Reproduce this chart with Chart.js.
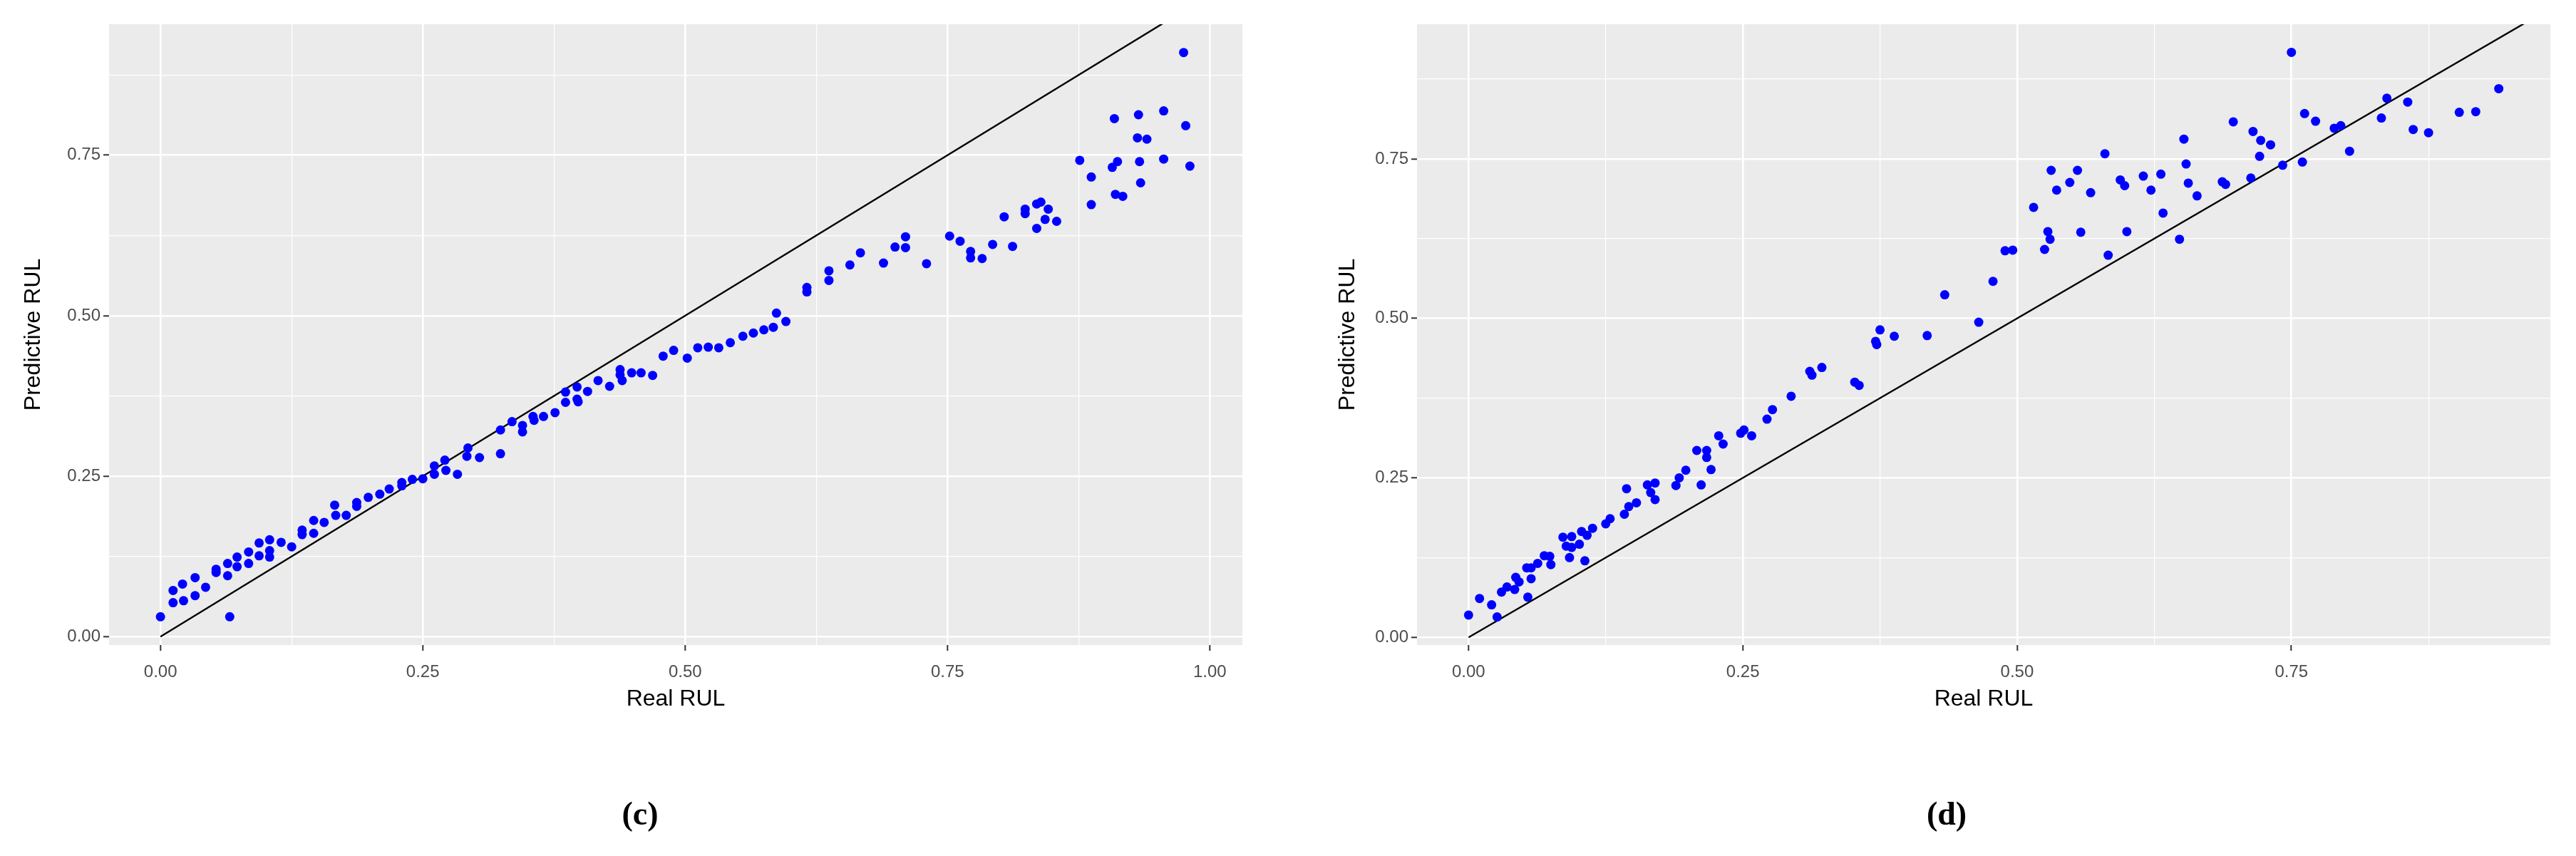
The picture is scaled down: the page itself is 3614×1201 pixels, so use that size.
<!DOCTYPE html>
<html><head><meta charset="utf-8">
<script src="https://cdn.jsdelivr.net/npm/chart.js@4/dist/chart.umd.min.js"></script>
<style>
body{margin:0;background:#fff;width:3614px;height:1201px;position:relative;overflow:hidden}
canvas{position:absolute;top:0}
.lab{position:absolute;font-family:"Liberation Serif",serif;font-weight:bold;font-size:46px;color:#000;transform:translate(-50%,-50%)}
</style></head><body>
<canvas id="c1" width="1800" height="1201" style="left:0"></canvas>
<canvas id="c2" width="1814" height="1201" style="left:1800px"></canvas>
<div class="lab" style="left:898px;top:1141px">(c)</div>
<div class="lab" style="left:2731px;top:1141px">(d)</div>
<script>
// Panel (c): Real RUL vs Predictive RUL
const realC = [0,0.012,0.012,0.021,0.022,0.033,0.033,0.043,0.053,0.053,0.064,0.064,0.066,0.073,0.073,0.084,0.084,0.094,0.094,0.104,0.104,0.104,0.115,0.125,0.135,0.135,0.146,0.146,0.156,0.166,0.167,0.177,0.187,0.187,0.198,0.209,0.218,0.230,0.230,0.240,0.250,0.261,0.261,0.271,0.272,0.283,0.293,0.292,0.304,0.324,0.324,0.335,0.345,0.345,0.355,0.356,0.365,0.376,0.386,0.386,0.397,0.397,0.398,0.407,0.417,0.428,0.438,0.438,0.440,0.449,0.458,0.469,0.479,0.489,0.502,0.512,0.522,0.532,0.543,0.555,0.565,0.575,0.584,0.587,0.596,0.616,0.616,0.637,0.637,0.657,0.667,0.689,0.700,0.710,0.710,0.730,0.752,0.762,0.772,0.772,0.783,0.793,0.804,0.812,0.824,0.824,0.835,0.839,0.835,0.843,0.846,0.854,0.876,0.887,0.887,0.909,0.907,0.912,0.910,0.917,0.932,0.931,0.940,0.933,0.934,0.956,0.956,0.975,0.977,0.981];
const predC = [0.031,0.072,0.053,0.082,0.056,0.092,0.064,0.077,0.105,0.100,0.114,0.095,0.031,0.124,0.109,0.132,0.114,0.146,0.126,0.151,0.134,0.124,0.147,0.140,0.166,0.159,0.181,0.161,0.178,0.205,0.189,0.189,0.209,0.203,0.217,0.222,0.230,0.240,0.235,0.245,0.246,0.266,0.253,0.275,0.259,0.253,0.294,0.281,0.279,0.322,0.285,0.335,0.329,0.319,0.343,0.337,0.343,0.349,0.381,0.365,0.389,0.370,0.366,0.382,0.399,0.390,0.416,0.408,0.399,0.411,0.411,0.407,0.437,0.446,0.434,0.450,0.451,0.450,0.458,0.468,0.473,0.478,0.482,0.504,0.491,0.544,0.537,0.570,0.555,0.579,0.598,0.582,0.607,0.623,0.606,0.581,0.624,0.616,0.600,0.590,0.589,0.611,0.654,0.608,0.666,0.659,0.674,0.677,0.636,0.650,0.666,0.647,0.742,0.716,0.673,0.807,0.731,0.740,0.689,0.686,0.813,0.777,0.775,0.740,0.707,0.819,0.744,0.910,0.796,0.733];
// Panel (d)
const realD = [0,0.010,0.021,0.026,0.030,0.035,0.042,0.043,0.046,0.054,0.053,0.057,0.057,0.063,0.069,0.074,0.075,0.086,0.089,0.094,0.094,0.092,0.101,0.103,0.108,0.106,0.113,0.125,0.129,0.142,0.146,0.144,0.153,0.163,0.170,0.166,0.170,0.189,0.192,0.198,0.212,0.208,0.217,0.217,0.221,0.228,0.232,0.248,0.251,0.258,0.272,0.277,0.294,0.311,0.313,0.322,0.352,0.356,0.375,0.371,0.372,0.388,0.418,0.434,0.465,0.478,0.489,0.496,0.515,0.525,0.528,0.530,0.531,0.536,0.548,0.555,0.558,0.567,0.580,0.583,0.594,0.598,0.600,0.615,0.622,0.631,0.633,0.648,0.652,0.654,0.656,0.664,0.687,0.690,0.697,0.713,0.715,0.722,0.731,0.721,0.742,0.750,0.760,0.762,0.772,0.789,0.795,0.803,0.832,0.837,0.856,0.861,0.875,0.903,0.918,0.939];
const predD = [0.035,0.061,0.051,0.032,0.071,0.079,0.075,0.094,0.087,0.063,0.109,0.109,0.092,0.116,0.128,0.127,0.114,0.157,0.143,0.158,0.141,0.125,0.146,0.166,0.160,0.120,0.171,0.178,0.186,0.193,0.205,0.233,0.211,0.239,0.242,0.227,0.216,0.238,0.250,0.262,0.239,0.293,0.293,0.282,0.263,0.316,0.303,0.320,0.325,0.316,0.342,0.357,0.378,0.417,0.411,0.423,0.400,0.395,0.482,0.464,0.459,0.472,0.473,0.537,0.494,0.558,0.606,0.607,0.674,0.608,0.636,0.624,0.732,0.701,0.713,0.732,0.635,0.697,0.758,0.599,0.717,0.708,0.636,0.723,0.701,0.726,0.665,0.624,0.781,0.742,0.712,0.692,0.714,0.710,0.808,0.720,0.793,0.779,0.772,0.754,0.740,0.917,0.745,0.821,0.809,0.798,0.802,0.762,0.814,0.845,0.839,0.796,0.791,0.823,0.824,0.860];
const diagLine = [0, 1.2];
const majorTickLabels = ["0.00","0.25","0.50","0.75","1.00"];
const majorTickValues = [0,0.25,0.5,0.75,1.0];
const gridValues = [0,0.125,0.25,0.375,0.5,0.625,0.75,0.875,1.0];
const xTitle = "Real RUL", yTitle = "Predictive RUL";

const bgPlugin = {id:'bg',beforeDraw(ch){const a=ch.chartArea,c=ch.ctx;c.save();c.fillStyle='#EBEBEB';c.fillRect(a.left,a.top,a.right-a.left,a.bottom-a.top);c.restore();}};

function isMajor(v){return majorTickValues.some(m=>Math.abs(m-v)<1e-6);}
function axis(min,max,title,titlePad,fit,horiz,tickPad){
  return {
    type:'linear',min,max,
    afterBuildTicks(s){s.ticks=gridValues.filter(v=>v>=min&&v<=max).map(v=>({value:v}));},
    afterFit(s){ if(horiz) s.height=fit; else s.width=fit; },
    border:{display:false},
    grid:{color:'#FFFFFF',lineWidth:c=>isMajor(c.tick.value)?2.6:1.2,tickLength:8,
      tickColor:c=>isMajor(c.tick.value)?'#333333':'rgba(0,0,0,0)',tickWidth:2},
    ticks:{color:'#4D4D4D',font:{family:'"Liberation Sans", Arial',size:24},padding:tickPad,maxRotation:0,autoSkip:false,
      callback:v=>{const i=majorTickValues.findIndex(m=>Math.abs(m-v)<1e-6);return i>=0?majorTickLabels[i]:'';}},
    title:{display:true,text:title,color:'#000',font:{family:'"Liberation Sans", Arial',size:32},padding:titlePad}
  };
}
function mk(id,xs,ys,xr,yr,yFit,yTitlePad,padRight){
  const pts=xs.map((x,i)=>({x,y:ys[i]}));
  return new Chart(document.getElementById(id),{
    type:'scatter',
    data:{datasets:[
      {data:pts,backgroundColor:'#0000FF',borderColor:'#0000FF',pointRadius:6.5,pointBorderWidth:0,order:1},
      {type:'line',data:diagLine.map(v=>({x:v,y:v})),borderColor:'#000',borderWidth:2.4,pointRadius:0,fill:false,order:2}
    ]},
    options:{responsive:false,animation:false,devicePixelRatio:1,
      layout:{padding:{top:34,right:padRight,bottom:200,left:0}},
      plugins:{legend:{display:false},tooltip:{enabled:false}},
      scales:{
        x:axis(xr[0],xr[1],xTitle,{top:0,bottom:1},96,true,16),
        y:axis(yr[0],yr[1],yTitle,{top:yTitlePad,bottom:0},yFit,false,4)
      }},
    plugins:[bgPlugin]
  });
}
mk('c1',realC,predC,[-0.049,1.031],[-0.013,0.954],153,28,57);
mk('c2',realD,predD,[-0.047,0.986],[-0.012,0.961],188,72,36);
</script></body></html>
